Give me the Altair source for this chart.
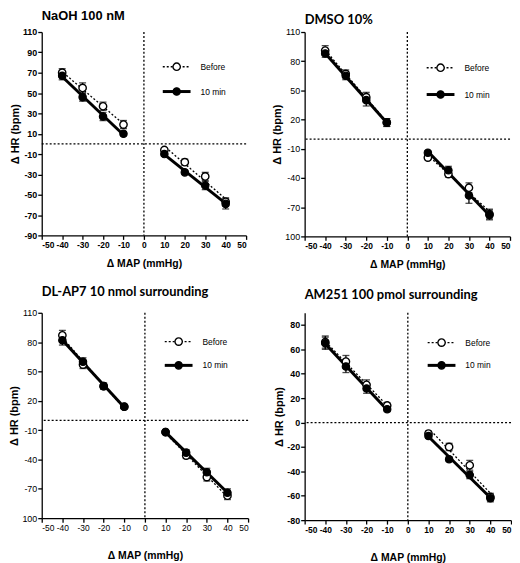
import altair as alt
import pandas as pd

# ---------------- data ----------------
MAP = [-40, -30, -20, -10, 10, 20, 30, 40]
SERIES = ["Before", "10 min"]

NAOH_BEFORE = [70, 55, 37, 19, -6, -18, -32, -57]
NAOH_BEFORE_SEM = [4, 5, 4, 4, 2, 3, 4, 4]
NAOH_10MIN = [67, 46, 27, 10, -10, -28, -41, -59]
NAOH_10MIN_SEM = [4, 4, 4, 2, 2, 2, 4, 5]

DMSO_BEFORE = [91, 67, 43, 17, -19, -36, -50, -77]
DMSO_BEFORE_SEM = [5, 4, 5, 4, 2, 3, 5, 5]
DMSO_10MIN = [88, 65, 40, 17, -14, -32, -58, -78]
DMSO_10MIN_SEM = [4, 4, 6, 4, 2, 4, 8, 5]

DLAP7_BEFORE = [87, 57, 35, 14, -12, -36, -58, -77]
DLAP7_BEFORE_SEM = [5, 4, 3, 2, 2, 3, 4, 4]
DLAP7_10MIN = [82, 60, 35, 14, -12, -33, -53, -74]
DLAP7_10MIN_SEM = [5, 4, 3, 2, 2, 3, 4, 4]

AM251_BEFORE = [66, 50, 31, 14, -9, -20, -35, -61]
AM251_BEFORE_SEM = [5, 5, 4, 2, 2, 3, 4, 3]
AM251_10MIN = [65, 46, 28, 11, -11, -30, -43, -62]
AM251_10MIN_SEM = [5, 5, 4, 2, 2, 2, 3, 3]

X_TICKS = [-50, -40, -30, -20, -10, 0, 10, 20, 30, 40, 50]
NAOH_Y_TICKS = [-90, -70, -50, -30, -10, 10, 30, 50, 70, 90, 110]
DMSO_Y_TICKS = [-100, -70, -40, -10, 20, 50, 80, 110]
AM251_Y_TICKS = [-80, -60, -40, -20, 0, 20, 40, 60, 80]

X_TITLE = "Δ MAP (mmHg)"
Y_TITLE = "Δ HR (bpm)"

PLAIN_LABEL = "'' + datum.value"
DMSO_LABEL = "datum.value == -100 ? '100' : '' + datum.value"


def panel(title, title_font, before, before_sem, after, after_sem,
          y_domain, y_ticks, xlab_bold, ylab_bold, width, height,
          legend_rows, x_title_pad, title_offset, label_expr=PLAIN_LABEL):
    df = pd.DataFrame({
        "map": MAP * 2,
        "hr": before + after,
        "sem": before_sem + after_sem,
        "series": [SERIES[0]] * len(MAP) + [SERIES[1]] * len(MAP),
        "side": (["neg" if m < 0 else "pos" for m in MAP]) * 2,
    })

    x_axis = alt.Axis(values=X_TICKS, title=X_TITLE, labelExpr=PLAIN_LABEL, labelOverlap=False,
                      labelFontWeight="bold" if xlab_bold else "normal",
                      labelFontSize=8.5, titlePadding=x_title_pad)
    y_axis = alt.Axis(values=y_ticks, title=Y_TITLE, labelExpr=label_expr, labelOverlap=False,
                      labelFontWeight="bold" if ylab_bold else "normal",
                      labelFontSize=9, titlePadding=2)
    xs = alt.Scale(domain=[-50, 50], nice=False, zero=False)
    ys = alt.Scale(domain=y_domain, nice=False, zero=False)

    def X(f):
        return alt.X(f, type="quantitative", scale=xs, axis=x_axis)

    def Y(f):
        return alt.Y(f, type="quantitative", scale=ys, axis=y_axis)

    base = alt.Chart(df)
    zero_df = pd.DataFrame({"zero": [0]})

    vrule = alt.Chart(zero_df).mark_rule(strokeDash=[2, 2], strokeWidth=1.3, color="black").encode(x=X("zero"))
    hrule = alt.Chart(zero_df).mark_rule(strokeDash=[2, 2], strokeWidth=1.3, color="black").encode(y=Y("zero"))

    line_b = base.transform_filter(alt.datum.series == SERIES[0]).transform_regression(
        "hr", "map", groupby=["side"]).mark_line(
        strokeDash=[2, 2], strokeWidth=1.3, color="black").encode(
        x=X("map"), y=Y("hr"), detail="side:N")
    line_a = base.transform_filter(alt.datum.series == SERIES[1]).transform_regression(
        "hr", "map", groupby=["side"]).mark_line(
        strokeWidth=3, color="black").encode(
        x=X("map"), y=Y("hr"), detail="side:N")

    eb = base.transform_calculate(lo="datum.hr - datum.sem", hi="datum.hr + datum.sem")
    err = eb.mark_rule(strokeWidth=1.3, color="black").encode(x=X("map"), y=Y("lo"), y2="hi:Q")
    cap_lo = eb.mark_tick(orient="horizontal", size=7, thickness=1.3, color="black").encode(x=X("map"), y=Y("lo"))
    cap_hi = eb.mark_tick(orient="horizontal", size=7, thickness=1.3, color="black").encode(x=X("map"), y=Y("hi"))

    pts_b = base.transform_filter(alt.datum.series == SERIES[0]).mark_point(
        shape="circle", filled=True, fill="white", stroke="black", strokeWidth=1.4,
        size=55, opacity=1).encode(x=X("map"), y=Y("hr"))
    pts_a = base.transform_filter(alt.datum.series == SERIES[1]).mark_point(
        shape="circle", filled=True, fill="black", stroke="black", strokeWidth=1.2,
        size=55, opacity=1).encode(x=X("map"), y=Y("hr"))

    # legend (inside plot, top right)
    one = pd.DataFrame({"k": [0]})
    lx1, lx2, lcx, ltx = width - 84, width - 56, width - 70, width - 46
    yb, ya = legend_rows
    leg = [
        alt.Chart(one).mark_rule(strokeDash=[2, 2], strokeWidth=1.3, color="black").encode(
            x=alt.value(lx1), x2=alt.value(lx2), y=alt.value(yb)),
        alt.Chart(one).mark_point(shape="circle", filled=True, fill="white", stroke="black",
                                  strokeWidth=1.4, size=55, opacity=1).encode(
            x=alt.value(lcx), y=alt.value(yb)),
        alt.Chart(one).mark_text(align="left", baseline="middle", fontSize=8.5,
                                 font="Liberation Sans", color="black").encode(
            x=alt.value(ltx), y=alt.value(yb), text=alt.value(SERIES[0])),
        alt.Chart(one).mark_rule(strokeWidth=3, color="black").encode(
            x=alt.value(lx1), x2=alt.value(lx2), y=alt.value(ya)),
        alt.Chart(one).mark_point(shape="circle", filled=True, fill="black", stroke="black",
                                  strokeWidth=1.2, size=55, opacity=1).encode(
            x=alt.value(lcx), y=alt.value(ya)),
        alt.Chart(one).mark_text(align="left", baseline="middle", fontSize=8.5,
                                 font="Liberation Sans", color="black").encode(
            x=alt.value(ltx), y=alt.value(ya), text=alt.value(SERIES[1])),
    ]

    return alt.layer(vrule, hrule, line_b, line_a, err, cap_lo, cap_hi, pts_b, pts_a, *leg).properties(
        width=width, height=height,
        title=alt.TitleParams(title, anchor="start", frame="group", font=title_font, fontSize=13,
                              fontWeight="bold", color="black", offset=title_offset),
    )


p1 = panel("NaOH 100 nM", "Liberation Sans", NAOH_BEFORE, NAOH_BEFORE_SEM, NAOH_10MIN, NAOH_10MIN_SEM,
           [-90, 110], NAOH_Y_TICKS, True, True, 206, 205, (35, 60), 10, 5)
p2 = panel("DMSO 10%", "Lato", DMSO_BEFORE, DMSO_BEFORE_SEM, DMSO_10MIN, DMSO_10MIN_SEM,
           [-100, 110], DMSO_Y_TICKS, True, False, 207, 206, (36, 63), 10, 1,
           label_expr=DMSO_LABEL)
p3 = panel("DL-AP7 10 nmol surrounding", "Lato", DLAP7_BEFORE, DLAP7_BEFORE_SEM, DLAP7_10MIN, DLAP7_10MIN_SEM,
           [-100, 110], DMSO_Y_TICKS, False, False, 208, 207, (29, 53), 19, 10,
           label_expr=DMSO_LABEL)
p4 = panel("AM251 100 pmol surrounding", "Lato", AM251_BEFORE, AM251_BEFORE_SEM, AM251_10MIN, AM251_10MIN_SEM,
           [-80, 90], AM251_Y_TICKS, True, True, 208, 209, (30, 53), 19, 10)

chart = alt.vconcat(
    alt.hconcat(p1, p2, spacing=24),
    alt.hconcat(p3, p4, spacing=24),
    spacing=16,
).properties(padding=0).configure_view(stroke=None).configure_axis(
    grid=False, domainColor="black", domainWidth=1.3, tickColor="black", tickWidth=1.3,
    tickSize=4, labelColor="black", titleColor="black", labelFont="Liberation Sans",
    titleFont="Liberation Sans", titleFontWeight="bold", titleFontSize=11, labelPadding=1,
).configure_axisX(titleFontSize=10.5)

chart.save("out.html", embed_options={"renderer": "svg", "actions": False})
